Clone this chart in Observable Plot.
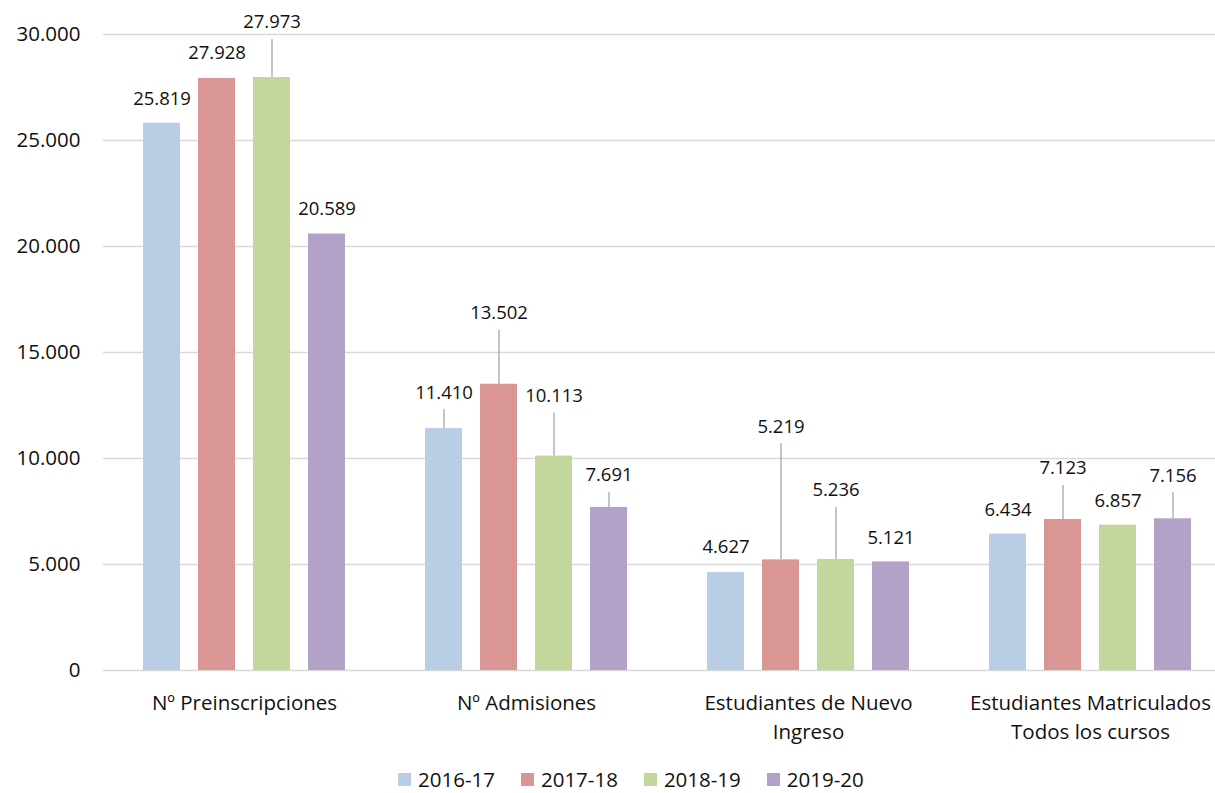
<!DOCTYPE html>
<html><head><meta charset="utf-8">
<script src="https://cdn.jsdelivr.net/npm/d3@7"></script>
<script src="https://cdn.jsdelivr.net/npm/@observablehq/plot@0.6"></script>
<style>
html,body{margin:0;padding:0;background:#fff;overflow:hidden;}
body{font-family:"Open Sans", sans-serif;color:#111;}
#chart{width:1215px;}
.legend{display:flex;align-items:center;height:22px;margin-top:0px;margin-left:398px;font-size:20.5px;line-height:20px;color:#111;}
.legend .item{display:flex;align-items:center;margin-right:26px;}
.legend .sw{display:inline-block;width:13px;height:13px;margin-right:7px;}
</style></head><body>
<div id="chart"></div>
<script>
// ---- data ----
const categories = ["Nº Preinscripciones", "Nº Admisiones", "Estudiantes de Nuevo Ingreso", "Estudiantes Matriculados Todos los cursos"];
const categoryLabels = ["Nº Preinscripciones", "Nº Admisiones", "Estudiantes de Nuevo\nIngreso", "Estudiantes Matriculados\nTodos los cursos"];
const series = ["2016-17", "2017-18", "2018-19", "2019-20"];
const values2016_17 = [25819, 11410, 4627, 6434];
const values2017_18 = [27928, 13502, 5219, 7123];
const values2018_19 = [27973, 10113, 5236, 6857];
const values2019_20 = [20589, 7691, 5121, 7156];
const yTicks = [0, 5000, 10000, 15000, 20000, 25000, 30000];

// ---- style ----
const colors = ["#b9cde5", "#d99694", "#c3d69b", "#b3a2c7"];
// pixel lift of each data label above its bar (callouts with leader lines)
const labelLift = [
  [24.5, 36, 25, 24],
  [25, 71, 133, 51],
  [55, 60, 69, 24.5],
  [24.5, 32, 24, 43]
];

const allValues = [values2016_17, values2017_18, values2018_19, values2019_20];
const rows = [];
series.forEach((s, si) => {
  categories.forEach((c, ci) => {
    rows.push({series: s, category: c, value: allValues[si][ci], lift: labelLift[si][ci]});
  });
});

const loc = d3.formatLocale({decimal: ",", thousands: ".", grouping: [3], currency: ["", " €"]});
const fmt = loc.format(",d");
const labelOf = new Map(categories.map((c, i) => [c, categoryLabels[i]]));
const FS = 18.5;

const leaders = rows.filter(d => d.lift > 28).map(d =>
  Plot.ruleX([d], {fx: "category", x: "series", y1: "value", y2: "value",
    insetTop: -(d.lift - 17), stroke: "#a6a6a6", strokeWidth: 1.3}));
const labels = rows.map(d =>
  Plot.text([d], {fx: "category", x: "series", y: "value", text: d => fmt(d.value),
    dy: -d.lift, fontSize: FS, fill: "#111", lineAnchor: "middle"}));

const chart = Plot.plot({
  width: 1215,
  height: 768,
  marginLeft: 102,
  marginRight: -17,
  marginTop: 34,
  marginBottom: 98,
  fx: {domain: categories, padding: 0, label: null},
  x: {domain: series, paddingInner: 0.33, paddingOuter: 0.72, axis: null},
  y: {domain: [0, 30000], label: null},
  color: {domain: series, range: colors},
  style: {fontFamily: "'Open Sans', sans-serif", fontSize: FS + "px", color: "#111", background: "#fff", overflow: "hidden"},
  marks: [
    Plot.gridY(yTicks, {stroke: "#d9d9d9", strokeOpacity: 1, strokeWidth: 1.3}),
    Plot.barY(rows, {fx: "category", x: "series", y: "value", fill: "series"}),
    ...leaders,
    ...labels,
    Plot.axisY(yTicks, {tickSize: 0, tickPadding: 23, tickFormat: fmt, fontSize: 20.5, label: null, fill: "#111"}),
    Plot.axisFx({anchor: "bottom", tickSize: 0, tickPadding: 19, tickFormat: c => labelOf.get(c), lineHeight: 1.41, fontSize: 20.5, label: null, fill: "#111"})
  ]
});
document.getElementById("chart").appendChild(chart);

const legend = document.createElement("div");
legend.className = "legend";
series.forEach((s, i) => {
  const item = document.createElement("div");
  item.className = "item";
  const sw = document.createElement("span");
  sw.className = "sw";
  sw.style.background = colors[i];
  item.appendChild(sw);
  item.appendChild(document.createTextNode(s));
  legend.appendChild(item);
});
document.getElementById("chart").appendChild(legend);
</script>
</body></html>
